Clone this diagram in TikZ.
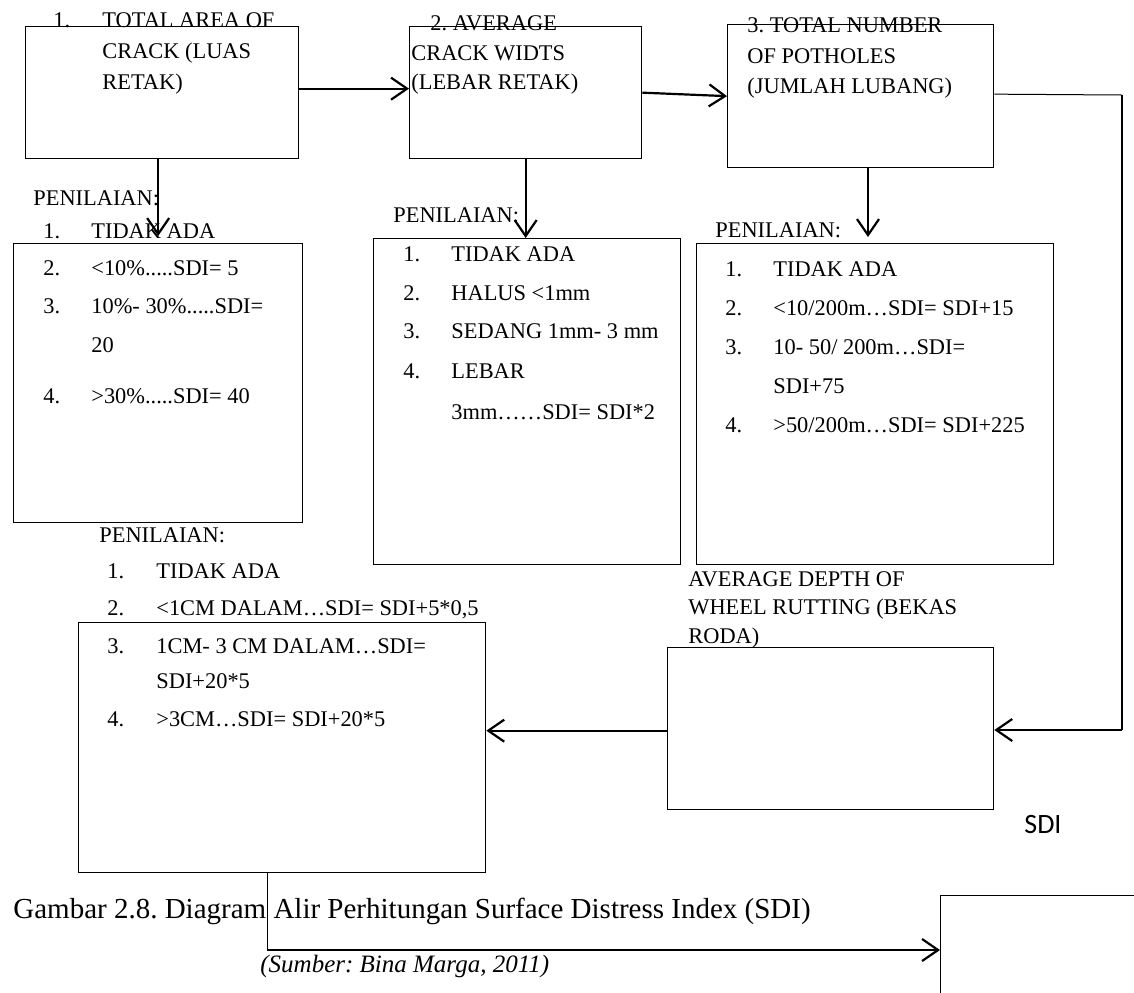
\documentclass[tikz,border=0pt]{standalone}
\usepackage{fontspec}
\setmainfont{Liberation Serif}
\newfontfamily\sdifont{Carlito}
\usetikzlibrary{arrows.meta,positioning}

\tikzset{
  box/.style={draw, line width=0.65pt, anchor=north west, inner sep=0pt},
  txt/.style={anchor=base west, inner sep=0pt, font=\fontsize{11.2}{13}\selectfont},
  arr/.style={-{Straight Barb[length=8pt,width=11pt]}, line width=1.1pt},
  thinline/.style={line width=0.5pt}
}
\frenchspacing

\begin{document}
\begin{tikzpicture}[x=0.5pt, y=-0.5pt]
    \useasboundingbox (0,0) rectangle (1134,992);
    \clip (0,0) rectangle (1134,992);

    % top row of boxes
    \node[box, minimum width=136.5pt, minimum height=66pt] (crack) at (25,26) {};
    \node[box, minimum width=116pt, minimum height=66pt] (width) at (409,26) {};
    \node[box, minimum width=133pt, minimum height=71.5pt] (holes) at (727,24) {};

    % scoring boxes
    \node[box, minimum width=144.5pt, minimum height=139.5pt] (crackScore) at (13,243) {};
    \node[box, minimum width=153.5pt, minimum height=163pt] (widthScore) at (373,238) {};
    \node[box, minimum width=178.5pt, minimum height=160.5pt] (holesScore) at (696,243) {};
    \node[box, minimum width=163pt, minimum height=81pt] (rut) at (667,647) {};
    \node[box, minimum width=203.5pt, minimum height=125pt] (rutScore) at (78,622) {};
    \node[box, minimum width=110pt, minimum height=60pt] (sdiBox) at (940,895) {};

    % titles
    \node[txt] (crackNo) at (53,27) {1.};
    \node[txt] (crackT1) at (102,27) {TOTAL AREA OF};
    \node[txt] (crackT2) at (102,58) {CRACK (LUAS};
    \node[txt] (crackT3) at (102,89) {RETAK)};
    \node[txt] (widthT1) at (430,30) {2. AVERAGE};
    \node[txt] (widthT2) at (411,60) {CRACK WIDTS};
    \node[txt] (widthT3) at (411,89) {(LEBAR RETAK)};
    \node[txt] (holesT1) at (747,32) {3. TOTAL NUMBER};
    \node[txt] (holesT2) at (747,63) {OF POTHOLES};
    \node[txt] (holesT3) at (747,93) {(JUMLAH LUBANG)};
    \node[txt] (rutT1) at (688,586) {AVERAGE DEPTH OF};
    \node[txt] (rutT2) at (688,614) {WHEEL RUTTING (BEKAS};
    \node[txt] (rutT3) at (688,643) {RODA)};

    % PENILAIAN labels
    \node[txt] (crackHead) at (33,205) {PENILAIAN:};
    \node[txt] (widthHead) at (393,222) {PENILAIAN:};
    \node[txt] (holesHead) at (715,237) {PENILAIAN:};
    \node[txt] (rutHead) at (99,542) {PENILAIAN:};

    % score lists
    \foreach \yy/\nn/\itm [count=\k] in {238/1./TIDAK ADA, 275/2./{<10\%.....SDI= 5},
        313/3./{10\%- 30\%.....SDI=}, 352//20, 403/4./{>30\%.....SDI= 40}} {
        \node[txt] (crackNum\k) at (43,\yy) {\nn};
        \node[txt] (crackItem\k) at (91,\yy) {\itm};
    }
    \foreach \yy/\nn/\itm [count=\k] in {261/1./TIDAK ADA, 300/2./{HALUS <1mm},
        338/3./{SEDANG 1mm- 3 mm}, 378/4./LEBAR, 419//{3mm……SDI= SDI*2}} {
        \node[txt] (widthNum\k) at (403,\yy) {\nn};
        \node[txt] (widthItem\k) at (451,\yy) {\itm};
    }
    \foreach \yy/\nn/\itm [count=\k] in {276/1./TIDAK ADA, 315/2./{<10/200m…SDI= SDI+15},
        354/3./{10- 50/ 200m…SDI=}, 393//{SDI+75}, 432/4./{>50/200m…SDI= SDI+225}} {
        \node[txt] (holesNum\k) at (725,\yy) {\nn};
        \node[txt] (holesItem\k) at (773,\yy) {\itm};
    }
    \foreach \yy/\nn/\itm [count=\k] in {578/1./TIDAK ADA, 615/2./{<1CM DALAM…SDI= SDI+5*0,5},
        653/3./{1CM- 3 CM DALAM…SDI=}, 688//{SDI+20*5}, 726/4./{>3CM…SDI= SDI+20*5}} {
        \node[txt] (rutNum\k) at (107,\yy) {\nn};
        \node[txt] (rutItem\k) at (156,\yy) {\itm};
    }

    \node[anchor=base west, inner sep=0pt, font=\sdifont\fontsize{14}{16}\selectfont] (sdiLabel) at (1024,833) {SDI};
    \node[anchor=base west, inner sep=0pt, font=\fontsize{14.5}{17}\selectfont] (caption) at (13,918)
        {Gambar 2.8. Diagram Alir Perhitungan Surface Distress Index (SDI)};
    \node[anchor=base west, inner sep=0pt, font=\itshape\fontsize{12.5}{15}\selectfont] (source) at (260,972)
        {(Sumber: Bina Marga, 2011)};

    % connectors
    \coordinate (bendA) at (1122,95);
    \coordinate (bendB) at (1122,730);
    \coordinate (bendC) at (267,950);
    \coordinate (holesDrop) at (868,167);
    \draw[arr] ([yshift=2pt]crack.east) -- ([yshift=2pt]crack.east -| width.west);
    \draw[arr] (width.east) -- (holes.west);
    \draw[arr] (crack.south -| crackScore.north) -- ([yshift=3.5pt]crackScore.north);
    \draw[arr] (width.south) -- (width.south |- widthScore.north);
    \draw[arr] (holesDrop) -- ([yshift=3pt]holesDrop |- holesScore.north);
    \draw[thinline] ([yshift=1pt]holes.east) -- (bendA);
    \draw[line width=0.7pt] (bendA) -- (bendB);
    \draw[arr] (bendB) -- (bendB -| rut.east);
    \draw[arr] ([yshift=-1pt]rut.west) -- ([yshift=-1pt]rut.west -| rutScore.east);
    \draw[thinline] (rutScore.south -| bendC) -- (bendC);
    \draw[arr] (bendC) -- (bendC -| sdiBox.west);
\end{tikzpicture}
\end{document}
